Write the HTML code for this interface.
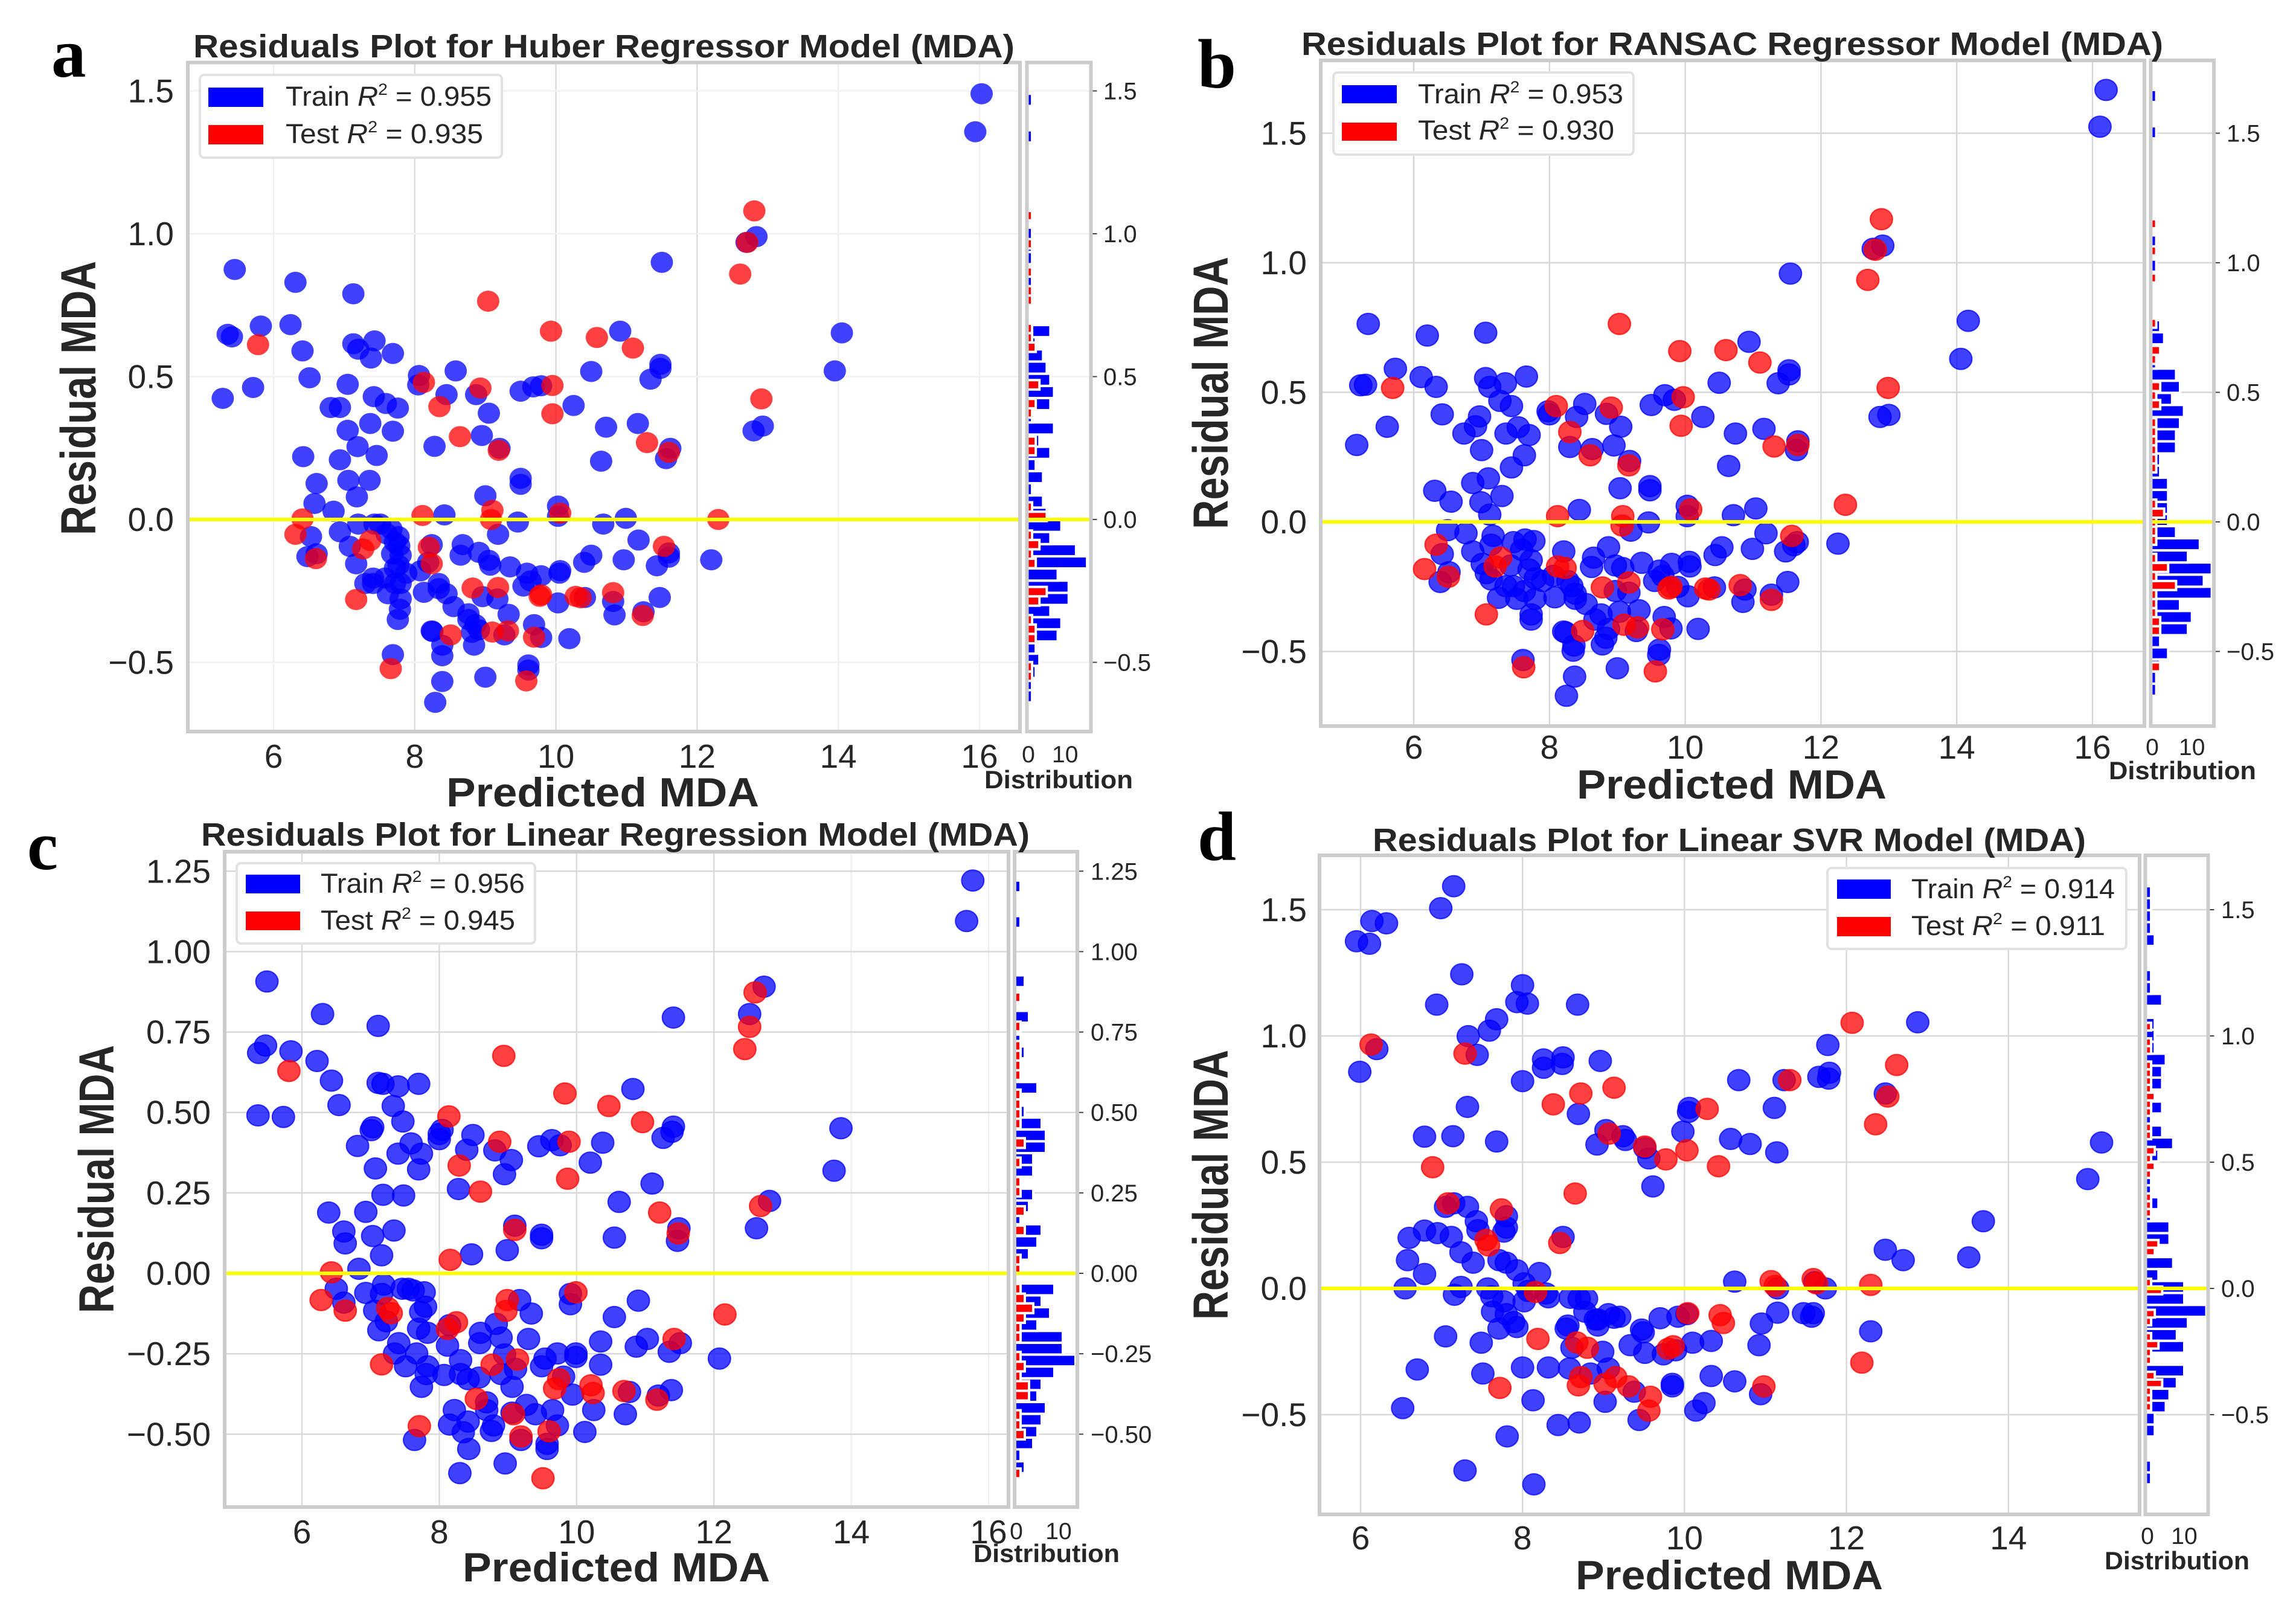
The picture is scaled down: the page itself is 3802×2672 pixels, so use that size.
<!DOCTYPE html>
<html lang="en">
<head>
<meta charset="utf-8">
<title>Residuals plots for four regressor models (MDA)</title>
<style>
html,body{margin:0;padding:0;background:#fff;}
svg{display:block;font-family:"Liberation Sans",Arial,sans-serif;}
.title{font-weight:bold;font-size:54px;fill:#262626;}
.xlabel{font-weight:bold;font-size:68px;fill:#262626;}
.ylabel{font-weight:bold;font-size:82px;fill:#262626;}
.dist{font-weight:bold;font-size:42px;fill:#262626;}
.leg{font-size:45px;fill:#262626;}
.sup{font-size:27px;}
.letter{font-family:"Liberation Serif",serif;font-weight:bold;font-size:115px;fill:#000;}
</style>
</head>
<body>
<svg id="fig" xmlns="http://www.w3.org/2000/svg" width="3802" height="2672" viewBox="0 0 3802 2672">
  <rect x="0" y="0" width="3802" height="2672" fill="#fff"/>
  <g id="plotA"></g>
  <g id="plotB"></g>
  <g id="plotC"></g>
  <g id="plotD"></g>

  <text class="letter" x="85" y="127">a</text>
  <text class="letter" x="1983" y="145">b</text>
  <text class="letter" x="45" y="1439">c</text>
  <text class="letter" x="1983" y="1424">d</text>

  <!-- Panel a -->
  <text class="title" x="320" y="95" textLength="1360" lengthAdjust="spacingAndGlyphs">Residuals Plot for Huber Regressor Model (MDA)</text>
  <text class="xlabel" x="739" y="1335" textLength="518" lengthAdjust="spacingAndGlyphs">Predicted MDA</text>
  <text class="ylabel" transform="translate(158,886) rotate(-90)" textLength="454" lengthAdjust="spacingAndGlyphs">Residual MDA</text>
  <text class="dist" x="1630" y="1305" textLength="246" lengthAdjust="spacingAndGlyphs">Distribution</text>
  <g>
    <rect x="331" y="124" width="500" height="137" rx="7" fill="#fff" stroke="#e2e2e2" stroke-width="4"/>
    <rect x="345" y="145" width="91" height="32" fill="#0000ff"/>
    <rect x="345" y="207" width="91" height="32" fill="#ff0000"/>
    <text class="leg" x="473" y="175" textLength="341" lengthAdjust="spacingAndGlyphs">Train <tspan font-style="italic">R</tspan><tspan class="sup" dy="-18">2</tspan><tspan dy="18"> = 0.955</tspan></text>
    <text class="leg" x="473" y="237" textLength="327" lengthAdjust="spacingAndGlyphs">Test <tspan font-style="italic">R</tspan><tspan class="sup" dy="-18">2</tspan><tspan dy="18"> = 0.935</tspan></text>
  </g>

  <!-- Panel b -->
  <text class="title" x="2155" y="91" textLength="1427" lengthAdjust="spacingAndGlyphs">Residuals Plot for RANSAC Regressor Model (MDA)</text>
  <text class="xlabel" x="2611" y="1322" textLength="513" lengthAdjust="spacingAndGlyphs">Predicted MDA</text>
  <text class="ylabel" transform="translate(2033,876) rotate(-90)" textLength="451" lengthAdjust="spacingAndGlyphs">Residual MDA</text>
  <text class="dist" x="3492" y="1290" textLength="244" lengthAdjust="spacingAndGlyphs">Distribution</text>
  <g>
    <rect x="2208" y="120" width="497" height="136" rx="7" fill="#fff" stroke="#e2e2e2" stroke-width="4"/>
    <rect x="2222" y="141" width="91" height="30" fill="#0000ff"/>
    <rect x="2222" y="203" width="91" height="30" fill="#ff0000"/>
    <text class="leg" x="2348" y="171" textLength="340" lengthAdjust="spacingAndGlyphs">Train <tspan font-style="italic">R</tspan><tspan class="sup" dy="-18">2</tspan><tspan dy="18"> = 0.953</tspan></text>
    <text class="leg" x="2348" y="231" textLength="325" lengthAdjust="spacingAndGlyphs">Test <tspan font-style="italic">R</tspan><tspan class="sup" dy="-18">2</tspan><tspan dy="18"> = 0.930</tspan></text>
  </g>

  <!-- Panel c -->
  <text class="title" x="333" y="1400" textLength="1372" lengthAdjust="spacingAndGlyphs">Residuals Plot for Linear Regression Model (MDA)</text>
  <text class="xlabel" x="766" y="2618" textLength="509" lengthAdjust="spacingAndGlyphs">Predicted MDA</text>
  <text class="ylabel" transform="translate(188,2174) rotate(-90)" textLength="444" lengthAdjust="spacingAndGlyphs">Residual MDA</text>
  <text class="dist" x="1612" y="2586" textLength="242" lengthAdjust="spacingAndGlyphs">Distribution</text>
  <g>
    <rect x="392" y="1429" width="494" height="133" rx="7" fill="#fff" stroke="#e2e2e2" stroke-width="4"/>
    <rect x="407" y="1448" width="90" height="31" fill="#0000ff"/>
    <rect x="407" y="1509" width="90" height="31" fill="#ff0000"/>
    <text class="leg" x="531" y="1478" textLength="338" lengthAdjust="spacingAndGlyphs">Train <tspan font-style="italic">R</tspan><tspan class="sup" dy="-18">2</tspan><tspan dy="18"> = 0.956</tspan></text>
    <text class="leg" x="531" y="1539" textLength="322" lengthAdjust="spacingAndGlyphs">Test <tspan font-style="italic">R</tspan><tspan class="sup" dy="-18">2</tspan><tspan dy="18"> = 0.945</tspan></text>
  </g>

  <!-- Panel d -->
  <text class="title" x="2273" y="1409" textLength="1181" lengthAdjust="spacingAndGlyphs">Residuals Plot for Linear SVR Model (MDA)</text>
  <text class="xlabel" x="2609" y="2631" textLength="509" lengthAdjust="spacingAndGlyphs">Predicted MDA</text>
  <text class="ylabel" transform="translate(2033,2185) rotate(-90)" textLength="447" lengthAdjust="spacingAndGlyphs">Residual MDA</text>
  <text class="dist" x="3485" y="2598" textLength="240" lengthAdjust="spacingAndGlyphs">Distribution</text>
  <g>
    <rect x="3026" y="1437" width="495" height="134" rx="7" fill="#fff" stroke="#e2e2e2" stroke-width="4"/>
    <rect x="3042" y="1456" width="89" height="32" fill="#0000ff"/>
    <rect x="3042" y="1518" width="89" height="32" fill="#ff0000"/>
    <text class="leg" x="3165" y="1487" textLength="337" lengthAdjust="spacingAndGlyphs">Train <tspan font-style="italic">R</tspan><tspan class="sup" dy="-18">2</tspan><tspan dy="18"> = 0.914</tspan></text>
    <text class="leg" x="3165" y="1548" textLength="321" lengthAdjust="spacingAndGlyphs">Test <tspan font-style="italic">R</tspan><tspan class="sup" dy="-18">2</tspan><tspan dy="18"> = 0.911</tspan></text>
  </g>
</svg>

<script>
// ---------- Tick labels ----------
const xTicksWide = [6, 8, 10, 12, 14, 16];
const xTicksSvr = [6, 8, 10, 12, 14];
const yTicksHalf = [-0.5, 0, 0.5, 1, 1.5];
const yTicksQuarter = [-0.5, -0.25, 0, 0.25, 0.5, 0.75, 1, 1.25];
const countTicks = [0, 10];

// ---------- Panel a: Huber ---------- [predicted, residual]
const trainPointsA = [[16.03,1.49],[15.94,1.357],[5.45,.875],[6.31,.83],[7.13,.79],[11.5,.9],[12.84,.99],[12.7,.97],[14.05,.653],[13.95,.52],[12.93,.327],[12.8,.31],[5.35,.648],[5.41,.639],[5.82,.677],[6.24,.682],[6.41,.59],[5.28,.424],[5.71,.462],[6.51,.496],[7.13,.615],[7.2,.596],[7.43,.625],[7.38,.565],[7.69,.581],[7.05,.473],[6.81,.392],[6.94,.392],[7.42,.43],[7.59,.406],[7.76,.39],[7.05,.312],[7.37,.336],[7.69,.309],[7.19,.255],[6.42,.22],[6.94,.209],[7.46,.224],[7.06,.137],[7.36,.137],[6.61,.126],[7.18,.079],[6.58,.056],[6.85,.029],[8.06,.504],[8.05,.471],[8.58,.52],[8.45,.437],[8.87,.437],[9.05,.372],[8.95,.294],[8.28,.256],[9.2,.249],[9.5,.449],[9.68,.464],[9.79,.468],[10.5,.518],[10.25,.399],[10.71,.323],[10.64,.204],[10.91,.659],[11.16,.336],[11.34,.491],[11.48,.529],[11.48,.543],[11.62,.249],[11.56,.213],[9.5,.144],[9.5,.123],[9,.083],[8.42,.016],[9.46,-.009],[10.03,.047],[10.03,.011],[10.67,-.016],[10.99,.004],[9.18,-.052],[11.17,-.072],[12.2,-.141],[11.6,-.117],[11.6,-.132],[11.43,-.162],[11.47,-.273],[11.24,-.323],[10.96,-.141],[10.5,-.125],[10.4,-.15],[10.41,-.273],[10.81,-.287],[10.83,-.334],[10.06,-.179],[10.03,-.292],[10.19,-.417],[7.2,-.016],[7.51,-.016],[7.67,-.034],[7.77,-.06],[7.6,-.05],[6.94,-.043],[6.53,-.06],[6.48,-.13],[6.61,-.12],[7.08,-.094],[7.17,-.155],[7.41,-.205],[7.3,-.224],[7.58,-.205],[7.72,-.224],[7.62,-.26],[7.88,-.188],[7.8,-.125],[7.77,-.16],[7.79,-.314],[7.76,-.35],[7.8,-.278],[8.13,-.255],[8.24,-.088],[8.19,-.15],[8.34,-.224],[8.45,-.26],[8.55,-.305],[8.24,-.39],[8.25,-.392],[8.39,-.44],[8.39,-.477],[7.69,-.473],[8.39,-.567],[8.29,-.64],[9,-.552],[9.61,-.509],[9.61,-.527],[8.76,-.35],[8.81,-.395],[8.84,-.44],[8.91,-.386],[8.68,-.088],[8.65,-.125],[8.91,-.115],[9.05,-.143],[9.07,-.16],[9.35,-.166],[8.96,-.27],[9.17,-.278],[9.33,-.332],[9.27,-.404],[9.69,-.368],[9.79,-.413],[9.59,-.188],[9.79,-.197],[10.05,-.188],[9.54,-.233],[9.64,-.215],[8.76,-.33],[8.86,-.368],[8.34,-.242],[7.41,-.224],[7.68,-.12],[7.78,-.092],[7.8,-.224],[7.72,-.17],[8.08,-.18],[7.43,-.016],[7.72,-.08]];
const testPointsA = [[12.81,1.08],[12.71,.97],[12.61,.859],[9.04,.764],[9.93,.659],[10.58,.637],[11.09,.6],[5.78,.612],[8.13,.48],[8.93,.46],[9.95,.469],[8.35,.395],[9.95,.37],[12.91,.422],[8.64,.29],[9.19,.242],[11.29,.269],[11.6,.235],[6.41,.002],[8.11,.014],[9.1,.032],[9.08,0],[10.06,.022],[12.3,0],[6.31,-.052],[6.6,-.137],[7.27,-.103],[7.37,-.074],[8.2,-.097],[8.24,-.155],[11.53,-.094],[7.17,-.28],[8.82,-.24],[9.18,-.238],[9.77,-.269],[9.79,-.264],[10.28,-.269],[10.35,-.274],[10.81,-.256],[11.23,-.336],[8.51,-.404],[9.1,-.394],[9.32,-.39],[9.69,-.412],[7.66,-.522],[9.58,-.565]];
const trainHistA = [1,1,2,3,2,8,9,6,11,11,8,16,13,6,9,5,4,1,4,2,6,3,7,1,6,7,6,5,4,2,6,0,0,1,1,0,1,1,1,0,0,0,0,0,0,0,1,0,0,1];
const testHistA = [1,1,0,0,2,2,1,0,3,5,0,0,2,1,3,1,0,5,1,0,0,0,0,0,2,2,0,0,1,2,0,3,0,0,0,2,1,1,0,0,1,1,0,1,0,0,1,0,0,1];

// ---------- Panel b: RANSAC ----------
const trainPointsB = [[16.2,1.667],[16.11,1.525],[5.33,.764],[6.2,.719],[7.06,.73],[11.55,.958],[12.91,1.066],[12.77,1.054],[14.17,.776],[14.06,.629],[13,.413],[12.87,.405],[5.22,.527],[5.29,.529],[5.73,.591],[6.11,.559],[6.33,.521],[5.16,.297],[5.61,.367],[6.42,.415],[7.06,.555],[7.12,.521],[7.35,.535],[7.66,.561],[7.27,.467],[7.44,.447],[6.97,.407],[6.91,.369],[6.74,.341],[7.36,.341],[7.54,.365],[7.7,.335],[7,.277],[7.63,.257],[7.44,.21],[7.1,.168],[6.87,.15],[6.31,.12],[6.55,.078],[7.3,.1],[6.99,.076],[7.12,.028],[6.5,-.032],[6.77,-.044],[7.98,.427],[8,.415],[8.52,.455],[8.4,.405],[8.84,.417],[9.05,.367],[8.3,.289],[8.63,.281],[8.95,.295],[9.18,.235],[9.5,.451],[9.7,.489],[9.84,.471],[10.26,.405],[10.5,.537],[10.74,.341],[10.64,.216],[10.94,.695],[11.16,.359],[11.37,.535],[11.53,.585],[11.53,.569],[11.66,.311],[11.64,.277],[9.04,.13],[9.48,.138],[9.48,.122],[8.44,.046],[9.46,-.002],[9.2,-.034],[10.03,.062],[10.03,.022],[10.71,.026],[11.04,.052],[11.19,-.044],[12.25,-.084],[11.65,-.078],[11.6,-.09],[11.48,-.114],[11.51,-.232],[11.27,-.281],[10.99,-.104],[10.54,-.098],[10.44,-.128],[10.43,-.253],[10.88,-.261],[10.85,-.309],[10.06,-.154],[10.07,-.172],[10.04,-.287],[10.19,-.413],[9.79,-.411],[9.69,-.367],[9.28,-.421],[9.32,-.341],[9.62,-.493],[9.61,-.513],[9,-.565],[8.37,-.597],[8.25,-.671],[8.35,-.497],[8.36,-.477],[7.61,-.533],[8.21,-.423],[8.24,-.427],[8.78,-.473],[8.83,-.447],[8.76,-.357],[8.67,-.377],[8.87,-.413],[9.03,-.347],[8.21,-.114],[8.65,-.138],[8.62,-.174],[8.87,-.098],[8.97,-.168],[9.08,-.178],[9.36,-.158],[8.97,-.267],[9.17,-.273],[9.62,-.188],[9.8,-.162],[9.55,-.228],[9.67,-.208],[9.89,-.251],[7.14,-.088],[6.87,-.114],[7.01,-.162],[7.07,-.198],[7.14,-.222],[7.17,-.054],[7.47,-.078],[7.64,-.068],[7.77,-.074],[7.59,-.108],[7.73,-.148],[7.7,-.184],[7.79,-.218],[7.9,-.228],[7.43,-.168],[6.42,-.124],[6.52,-.194],[6.39,-.232],[7.25,-.293],[7.36,-.248],[7.47,-.248],[7.52,-.297],[7.63,-.267],[7.79,-.297],[7.73,-.357],[7.73,-.377],[8.08,-.291],[8.33,-.248],[8.38,-.297],[8.54,-.317],[8.38,-.277],[8.27,-.228],[8.06,-.208]];
const testPointsB = [[12.89,1.168],[12.8,1.05],[12.69,.934],[9.03,.764],[9.92,.659],[10.6,.663],[11.1,.615],[5.69,.517],[8.1,.447],[8.91,.441],[9.97,.481],[9.94,.371],[8.3,.347],[12.99,.517],[8.6,.257],[9.17,.218],[11.31,.291],[11.66,.297],[12.36,.066],[8.12,.022],[9.08,.022],[9.07,-.014],[10.08,.048],[11.57,-.054],[6.33,-.088],[6.16,-.182],[6.51,-.212],[7.28,-.138],[7.2,-.172],[8.12,-.172],[8.23,-.178],[8.78,-.253],[9.17,-.234],[9.76,-.257],[9.79,-.251],[10.3,-.257],[10.35,-.261],[10.81,-.244],[11.27,-.301],[7.07,-.357],[8.49,-.421],[9.1,-.397],[9.3,-.407],[9.67,-.415],[7.62,-.561],[9.56,-.577]];
const trainHistB = [1,1,2,4,2,9,10,7,15,13,15,9,12,6,4,4,4,4,2,2,6,6,7,8,5,7,6,1,0,3,2,0,0,0,0,1,0,1,0,0,0,0,0,0,0,0,1,0,0,1];
const testHistB = [2,0,0,0,2,2,1,1,1,6,1,4,1,0,1,1,1,3,1,0,0,0,1,1,1,1,1,1,0,2,1,2,0,0,1,2,0,0,1,0,0,0,0,1,0,0,1,0,0,1];

// ---------- Panel c: Linear Regression ----------
const trainPointsC = [[15.77,1.221],[15.68,1.095],[5.49,.907],[6.3,.806],[7.11,.769],[11.41,.795],[12.73,.891],[12.52,.806],[5.47,.708],[5.37,.685],[5.84,.69],[6.22,.66],[6.43,.599],[6.54,.523],[5.36,.491],[5.73,.486],[7.11,.592],[7.18,.589],[7.4,.581],[7.7,.589],[7.33,.52],[7.47,.472],[10.82,.573],[7.03,.454],[7.01,.445],[6.81,.396],[7.07,.326],[7.59,.404],[7.4,.372],[7.74,.372],[7.7,.323],[8,.433],[8.04,.446],[8,.417],[8.49,.43],[8.4,.384],[8.81,.382],[9.05,.352],[8.95,.308],[9.45,.395],[9.64,.414],[9.76,.398],[10.2,.344],[10.38,.406],[11.26,.421],[11.41,.456],[11.39,.44],[13.85,.451],[13.75,.319],[12.81,.225],[12.62,.14],[11.1,.279],[10.62,.222],[10.55,.111],[7.18,.244],[7.48,.242],[8.28,.262],[6.39,.189],[6.93,.191],[6.61,.13],[6.63,.093],[7.03,.116],[7.34,.133],[7.16,.056],[6.83,.014],[8.47,.059],[8.99,.072],[9.1,.148],[9.49,.12],[9.49,.109],[11.49,.14],[11.47,.101],[6.5,-.048],[6.61,-.091],[6.93,-.061],[7.19,-.035],[7.16,-.064],[7.06,-.116],[7.23,-.149],[7.12,-.177],[7.46,-.048],[7.55,-.048],[7.62,-.053],[7.78,-.059],[7.73,-.12],[7.8,-.104],[9.17,-.083],[9.91,-.064],[9.91,-.096],[10.9,-.085],[10.55,-.136],[9.34,-.125],[8.83,-.157],[8.6,-.185],[8.59,-.217],[8.9,-.2],[9.3,-.204],[8.15,-.161],[8.12,-.225],[7.83,-.185],[7.7,-.172],[7.41,-.217],[7.35,-.249],[7.51,-.289],[7.67,-.249],[7.83,-.289],[7.81,-.313],[7.74,-.353],[8.07,-.316],[8.31,-.27],[8.31,-.313],[8.42,-.329],[8.58,-.324],[8.95,-.252],[8.9,-.313],[9.11,-.297],[9.06,-.353],[9.49,-.289],[9.54,-.265],[9.72,-.249],[9.81,-.321],[9.99,-.249],[9.99,-.26],[9.94,-.377],[10.35,-.284],[10.35,-.212],[10.87,-.228],[11.03,-.204],[11.35,-.244],[11.51,-.217],[12.08,-.265],[11.38,-.363],[11.19,-.38],[10.77,-.369],[10.25,-.425],[10.71,-.438],[9.72,-.473],[9.65,-.425],[9.4,-.438],[9.27,-.409],[9.06,-.433],[8.79,-.473],[8.76,-.49],[8.69,-.401],[8.69,-.425],[8.22,-.425],[8.42,-.461],[8.15,-.47],[8.35,-.494],[8.43,-.546],[10.12,-.493],[9.57,-.53],[9.57,-.546],[9.19,-.518],[7.64,-.518],[8.96,-.591],[8.3,-.621]];
const testPointsC = [[12.6,.873],[12.52,.766],[12.45,.697],[8.94,.676],[5.81,.629],[9.83,.559],[10.47,.52],[10.96,.47],[8.14,.488],[8.88,.409],[9.89,.409],[9.87,.294],[8.29,.335],[8.6,.254],[12.68,.209],[11.21,.189],[9.1,.135],[11.48,.124],[8.16,.042],[6.43,.003],[6.28,-.083],[6.63,-.116],[7.25,-.108],[7.3,-.124],[8.99,-.083],[8.97,-.117],[9.99,-.059],[12.16,-.128],[8.25,-.152],[8.12,-.173],[11.42,-.204],[7.16,-.283],[8.77,-.284],[9.14,-.268],[8.54,-.39],[9.08,-.438],[9.74,-.329],[9.68,-.358],[10.21,-.348],[10.24,-.372],[10.69,-.366],[11.17,-.393],[7.71,-.475],[9.19,-.507],[9.6,-.491],[9.51,-.637]];
const trainHistC = [2,1,4,5,6,7,5,6,9,14,11,11,5,8,6,9,0,0,3,5,6,1,3,4,0,4,4,7,7,6,2,0,5,0,1,2,1,0,3,0,0,2,0,0,0,0,1,0,0,1];
const testHistC = [1,0,0,0,2,1,1,0,3,3,1,2,1,0,1,1,2,4,2,1,0,1,1,0,0,2,0,2,0,1,1,0,1,0,2,0,1,1,1,1,0,1,1,1,1,0,1,0,0,1];

// ---------- Panel d: Linear SVR ----------
const trainPointsD = [[7.15,1.593],[6.99,1.506],[6.14,1.455],[6.32,1.446],[5.95,1.375],[6.11,1.365],[7.25,1.244],[8,1.201],[6.94,1.124],[7.93,1.134],[8.06,1.128],[8.68,1.124],[7.68,1.066],[7.59,1.021],[7.33,.999],[7.44,.925],[6.2,.948],[5.99,.858],[8.26,.907],[8.26,.874],[8.5,.915],[8.49,.889],[8.96,.901],[8,.821],[8.69,.691],[7.32,.719],[6.79,.601],[7.14,.603],[7.68,.582],[9.03,.627],[8.92,.57],[9.24,.603],[9.27,.588],[9.51,.556],[9.56,.515],[9.61,.404],[9.98,.621],[10.06,.715],[10.05,.699],[10.67,.825],[11.11,.715],[10.57,.592],[10.81,.572],[11.14,.539],[11.23,.825],[11.66,.838],[11.79,.854],[11.78,.831],[11.77,.964],[12.88,1.054],[12.48,.772],[15.15,.578],[14.98,.433],[13.69,.266],[13.51,.123],[12.7,.112],[12.48,.153],[10.62,.027],[11.15,0],[11.74,0],[11.61,.025],[11.15,-.096],[11.47,-.098],[11.59,-.098],[11.57,-.112],[10.95,-.139],[10.92,-.225],[12.3,-.17],[10.33,-.208],[10.1,-.215],[10.03,-.102],[9.92,-.112],[9.7,-.118],[9.89,-.245],[9.74,-.261],[9.51,-.255],[9.33,-.225],[9.47,-.163],[9.49,-.174],[9.2,-.112],[9.06,-.102],[9.13,-.116],[8.93,-.147],[8.9,-.123],[8.77,-.092],[8.79,-.041],[8.7,-.041],[8.59,-.037],[8.32,-.035],[8.29,-.02],[8.07,-.01],[8.02,-.051],[8.02,.02],[8.21,.061],[7.93,.072],[7.8,.102],[7.71,.112],[7.63,-.092],[7.8,-.102],[7.89,-.133],[7.93,-.153],[7.71,-.159],[7.77,-.051],[7.62,-.031],[7.57,0],[7.24,.006],[7.16,-.025],[6.55,0],[6.79,.057],[6.58,.112],[6.6,.2],[6.79,.229],[6.95,.219],[7.12,.204],[7.24,.143],[7.39,.102],[7.05,.323],[7.15,.337],[7.32,.323],[7.43,.266],[7.45,.231],[7.77,.225],[7.8,.241],[7.8,.286],[8.5,.204],[7.05,-.19],[7.49,-.215],[6.7,-.321],[7.51,-.337],[6.52,-.474],[8,-.313],[8.32,-.313],[8.58,-.317],[8.84,-.337],[9.06,-.317],[8.61,-.235],[8.99,-.251],[8.54,-.159],[8.56,-.147],[8.93,-.123],[8.13,-.443],[9.02,-.449],[9.38,-.409],[9.85,-.378],[9.85,-.388],[10.33,-.347],[10.62,-.368],[10.94,-.419],[10.24,-.454],[10.14,-.484],[9.44,-.521],[8.7,-.531],[8.44,-.541],[7.81,-.586],[7.29,-.721],[8.14,-.776]];
const testPointsD = [[12.07,1.052],[6.13,.966],[7.29,.93],[12.62,.885],[11.3,.825],[8.72,.772],[9.13,.795],[8.38,.729],[12.51,.76],[10.28,.711],[12.36,.65],[9.07,.613],[9.51,.562],[10.03,.547],[9.77,.511],[10.42,.484],[6.89,.48],[8.65,.376],[7.08,.337],[7.74,.313],[7.55,.192],[7.58,.17],[8.46,.18],[11.07,.029],[11.12,.01],[11.59,.037],[11.63,.02],[12.3,.014],[8.16,-.014],[10.04,-.098],[10.44,-.106],[10.48,-.137],[8.19,-.2],[8.67,-.214],[8.8,-.235],[9.8,-.239],[9.86,-.229],[12.19,-.294],[8.72,-.351],[8.69,-.384],[9.02,-.378],[9.15,-.351],[9.31,-.388],[7.72,-.394],[10.98,-.388],[9.58,-.429],[9.56,-.484]];
const trainHistD = [1,1,0,0,2,2,5,6,8,10,0,10,8,11,16,10,10,3,7,2,6,6,1,3,1,1,1,3,7,4,1,4,0,4,4,5,2,2,2,0,4,1,1,0,0,2,1,1,1,1];
const testHistD = [1,1,1,4,2,0,1,1,3,1,0,1,2,0,0,4,1,0,0,0,2,3,0,0,0,1,1,1,0,0,1,2,1,2,0,1,1,0,1,1,2,1,1,1,1,0,1,1,0,1];

const NS = 'http://www.w3.org/2000/svg';
function add(parent, tag, attrs) {
  const node = document.createElementNS(NS, tag);
  for (const k in attrs) node.setAttribute(k, attrs[k]);
  parent.appendChild(node);
  return node;
}
function fmt(v, digits) {
  return (v < 0 ? '\u2212' : '') + Math.abs(v).toFixed(digits);
}
function histRange(points) {
  const ys = points.map(p => p[1]);
  return [Math.min.apply(null, ys), Math.max.apply(null, ys)];
}

const panels = [
  { id:'plotA', train:trainPointsA, test:testPointsA, trainHist:trainHistA, testHist:testHistA,
    xTicks:xTicksWide, yTicks:yTicksHalf, digits:1, edge:0,
    mainL:311, mainR:1689, top:103.5, bottom:1211, margL:1700.5, margR:1806.5,
    x6:453, xUnit:116.9, y0:860, yUnit:473, c0:1703, cUnit:6.07,
    yLabelRight:288, xLabelBase:1271, cLabelBase:1262, rightLabelX:1827,
    gridX:v => (v === 8 || v === 10 || v === 12) ? '#dcdcdc' : '#f0f0f0', gridY:'#f2f2f2' },
  { id:'plotB', train:trainPointsB, test:testPointsB, trainHist:trainHistB, testHist:testHistB,
    xTicks:xTicksWide, yTicks:yTicksHalf, digits:1, edge:2,
    mainL:2187, mainR:3551, top:100, bottom:1202, margL:3561.5, margR:3666,
    x6:2341, xUnit:112.4, y0:864, yUnit:429, c0:3564, cUnit:6.57,
    yLabelRight:2164, xLabelBase:1256, cLabelBase:1250, rightLabelX:3687,
    gridX:v => '#d6d6d6', gridY:'#d6d6d6' },
  { id:'plotC', train:trainPointsC, test:testPointsC, trainHist:trainHistC, testHist:testHistC,
    xTicks:xTicksWide, yTicks:yTicksQuarter, digits:2, edge:2,
    mainL:372, mainR:1670, top:1410, bottom:2495, margL:1680, margR:1784,
    x6:500, xUnit:113.7, y0:2108, yUnit:532.6, c0:1683, cUnit:7,
    yLabelRight:349, xLabelBase:2555, cLabelBase:2548, rightLabelX:1806,
    gridX:v => (v === 14 || v === 16) ? '#eeeeee' : '#dadada', gridY:'#d8d8d8' },
  { id:'plotD', train:trainPointsD, test:testPointsD, trainHist:trainHistD, testHist:testHistD,
    xTicks:xTicksSvr, yTicks:yTicksHalf, digits:1, edge:2,
    mainL:2185, mainR:3543, top:1416, bottom:2507, margL:3552.5, margR:3656.5,
    x6:2253, xUnit:134.1, y0:2133, yUnit:418, c0:3556, cUnit:6.1,
    yLabelRight:2164, xLabelBase:2565, cLabelBase:2556, rightLabelX:3678,
    gridX:v => '#d8d8d8', gridY:'#d8d8d8' }
];

function drawHist(g, p, counts, points, color, seriesName, yScale, cScale) {
  const range = histRange(points);
  const binW = (range[1] - range[0]) / counts.length;
  counts.forEach(function (n, i) {
    if (!n) return;
    const yHi = yScale(range[0] + (i + 1) * binW);
    const yLo = yScale(range[0] + i * binW);
    const bar = add(g, 'rect', {
      x: p.c0 - 4, y: yHi, width: cScale(n) - p.c0 + 4, height: yLo - yHi,
      fill: color, stroke: '#fff', 'stroke-width': 4
    });
    
    
  });
}

function drawPoints(g, p, points, color, seriesName, xScale, yScale) {
  points.forEach(function (pt) {
    const dot = add(g, 'ellipse', {
      cx: xScale(pt[0]), cy: yScale(pt[1]), rx: 18.5, ry: 17.5,
      fill: color, 'fill-opacity': 0.75,
      stroke: color, 'stroke-width': p.edge, 'stroke-opacity': 0.75
    });
    
    
  });
}

panels.forEach(function (p) {
  const g = document.getElementById(p.id);
  const xScale = v => p.x6 + (v - 6) * p.xUnit;
  const yScale = v => p.y0 - v * p.yUnit;
  const cScale = v => p.c0 + v * p.cUnit;

  // grid
  p.xTicks.forEach(function (v) {
    const line = add(g, 'line', { x1: xScale(v), x2: xScale(v), y1: p.top, y2: p.bottom, stroke: p.gridX(v), 'stroke-width': 2.4 });
    
    
  });
  p.yTicks.forEach(function (v) {
    const line = add(g, 'line', { x1: p.mainL, x2: p.mainR, y1: yScale(v), y2: yScale(v), stroke: p.gridY, 'stroke-width': 2.4 });
    
    
    const lineM = add(g, 'line', { x1: p.margL, x2: p.margR, y1: yScale(v), y2: yScale(v), stroke: p.gridY, 'stroke-width': 2.4 });
    
    
  });

  // histograms
  drawHist(g, p, p.trainHist, p.train, '#0000ff', 'train', yScale, cScale);
  drawHist(g, p, p.testHist, p.test, '#ff0000', 'test', yScale, cScale);

  // scatter
  drawPoints(g, p, p.train, '#0000ff', 'train', xScale, yScale);
  drawPoints(g, p, p.test, '#ff0000', 'test', xScale, yScale);

  // zero lines
  const zero = add(g, 'line', { x1: p.mainL, x2: p.mainR, y1: yScale(0), y2: yScale(0), stroke: '#ffff00', 'stroke-width': 6 });
  
  
  const zeroM = add(g, 'line', { x1: p.margL, x2: p.margR, y1: yScale(0), y2: yScale(0), stroke: '#ffff00', 'stroke-width': 6 });
  
  

  // frames
  const frame = add(g, 'rect', { x: p.mainL, y: p.top, width: p.mainR - p.mainL, height: p.bottom - p.top, fill: 'none', stroke: '#cccccc', 'stroke-width': 6 });
  
  
  const frameM = add(g, 'rect', { x: p.margL, y: p.top, width: p.margR - p.margL, height: p.bottom - p.top, fill: 'none', stroke: '#cccccc', 'stroke-width': 6 });
  
  

  // tick labels
  p.xTicks.forEach(function (v) {
    const t = add(g, 'text', { x: xScale(v), y: p.xLabelBase, 'text-anchor': 'middle', 'font-size': 55, fill: '#262626' });
    t.textContent = String(v);
    
    
  });
  p.yTicks.forEach(function (v) {
    const t = add(g, 'text', { x: p.yLabelRight, y: yScale(v) + 19, 'text-anchor': 'end', 'font-size': 55, fill: '#262626' });
    t.textContent = fmt(v, p.digits);
    
    
    const tick = add(g, 'line', { x1: p.margR + 3, x2: p.margR + 10, y1: yScale(v), y2: yScale(v), stroke: '#444', 'stroke-width': 2 });
    
    
    const r = add(g, 'text', { x: p.rightLabelX, y: yScale(v) + 14, 'font-size': 40, fill: '#262626' });
    r.textContent = fmt(v, p.digits);
    
    
  });
  countTicks.forEach(function (v) {
    const t = add(g, 'text', { x: cScale(v), y: p.cLabelBase, 'text-anchor': 'middle', 'font-size': 39, fill: '#262626' });
    t.textContent = String(v);
    
    
  });
});
</script>
</body>
</html>
